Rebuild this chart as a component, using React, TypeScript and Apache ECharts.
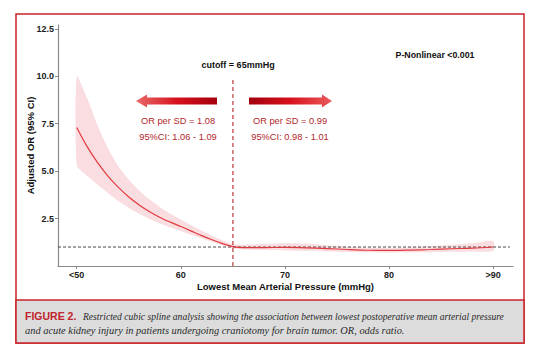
import React, { useEffect, useRef } from "react";
import * as echarts from "echarts";

const mapX = [50, 51, 52, 53, 54, 55, 56, 57, 58, 59, 60, 61, 62, 63, 64, 65, 66, 68, 70, 72, 74, 76, 78, 80, 82, 84, 86, 88, 90];
const orEst = [7.3, 6.29, 5.45, 4.74, 4.14, 3.64, 3.22, 2.86, 2.56, 2.31, 2.08, 1.84, 1.6, 1.38, 1.18, 1.02, 0.97, 0.97, 0.98, 0.96, 0.92, 0.87, 0.83, 0.82, 0.84, 0.87, 0.91, 0.94, 1.0];
const ciUpper = [10.0, 8.85, 7.4, 6.2, 5.25, 4.55, 3.98, 3.5, 3.1, 2.75, 2.45, 2.15, 1.86, 1.6, 1.36, 1.14, 1.12, 1.17, 1.2, 1.18, 1.1, 1.02, 0.96, 0.94, 0.98, 1.04, 1.12, 1.2, 1.32];
const ciLower = [5.3, 4.75, 4.28, 3.85, 3.42, 3.05, 2.75, 2.48, 2.24, 2.03, 1.84, 1.64, 1.45, 1.27, 1.1, 0.94, 0.87, 0.84, 0.82, 0.8, 0.77, 0.74, 0.72, 0.71, 0.72, 0.73, 0.75, 0.77, 0.79];
const xTicks = [50, 60, 70, 80, 90];
const yTicks = [2.5, 5.0, 7.5, 10.0, 12.5];
const cutoff = 65;
const refOR = 1;

const captionLine1 = "Restricted cubic spline analysis showing the association between lowest postoperative mean arterial pressure";
const captionLine2 = "and acute kidney injury in patients undergoing craniotomy for brain tumor. OR, odds ratio.";

export default function App() {
  const ref = useRef<HTMLDivElement>(null);
  useEffect(() => {
    if (!ref.current) return;
    const chart = echarts.init(ref.current, undefined, { renderer: "svg" });
    const axisGray = "#8a8a8a";
    const darkRed = "#b3262c";
    const bandData = mapX.map((x, i) => [x, ciLower[i], ciUpper[i]]);
    const option: any = {
      animation: false,
      backgroundColor: "#ffffff",
      grid: { left: 58, right: 22, top: 25, bottom: 88 },
      xAxis: {
        type: "value",
        min: 48.2,
        max: 91.9,
        splitLine: { show: false },
        axisLine: { show: true, lineStyle: { color: axisGray, width: 1.2 } },
        axisTick: { show: true, length: 3, customValues: xTicks, lineStyle: { color: axisGray } },
        axisLabel: {
          customValues: xTicks,
          margin: 4,
          color: "#222",
          fontWeight: "bold",
          fontSize: 9,
          fontFamily: "Liberation Sans",
          formatter: (v: number) => (v === 50 ? "<50" : v === 90 ? ">90" : String(v)),
        },
        name: "Lowest Mean Arterial Pressure (mmHg)",
        nameLocation: "middle",
        nameGap: 15,
        nameMoveOverlap: false,
        nameTextStyle: { color: "#111", fontWeight: "bold", fontSize: 9.5, fontFamily: "Liberation Sans" },
      },
      yAxis: {
        type: "value",
        min: 0,
        max: 12.7,
        splitLine: { show: false },
        axisLine: { show: true, lineStyle: { color: axisGray, width: 1.2 } },
        axisTick: { show: true, length: 3, customValues: yTicks, lineStyle: { color: axisGray } },
        axisLabel: {
          customValues: yTicks,
          margin: 4,
          color: "#222",
          fontWeight: "bold",
          fontSize: 9,
          fontFamily: "Liberation Sans",
          formatter: (v: number) => v.toFixed(1),
        },
        name: "Adjusted OR (95% CI)",
        nameLocation: "middle",
        nameGap: 23,
        nameMoveOverlap: false,
        nameTextStyle: { color: "#111", fontWeight: "bold", fontSize: 9.5, fontFamily: "Liberation Sans" },
      },
      series: [
        {
          type: "custom",
          data: bandData,
          encode: { x: 0, y: [1, 2] },
          z: 1,
          renderItem: (params: any, api: any) => {
            if (params.dataIndex !== 0) return null;
            const top = bandData.map((d) => api.coord([d[0], d[2]]));
            const bot = bandData.map((d) => api.coord([d[0], d[1]])).reverse();
            return {
              type: "polygon",
              shape: { points: top.concat(bot), smooth: 0.2 },
              style: { fill: "rgba(232,120,130,0.25)", stroke: "none" },
            };
          },
        },
        {
          type: "line",
          data: [[48.2, refOR], [91.6, refOR]],
          symbol: "none",
          lineStyle: { color: "#333", width: 0.9, type: [3, 2] },
          z: 2,
        },
        {
          type: "line",
          data: mapX.map((x, i) => [x, orEst[i]]),
          symbol: "none",
          smooth: 0.3,
          lineStyle: { color: "#e0393e", width: 1.2 },
          z: 3,
        },
        {
          type: "line",
          data: [[cutoff, 0], [cutoff, 9.9]],
          symbol: "none",
          lineStyle: { color: darkRed, width: 1.1, type: [4, 3] },
          z: 4,
        },
      ],
      graphic: [
        {
          type: "rect",
          shape: { x: 16, y: 14, width: 508, height: 329 },
          style: { fill: "none", stroke: "#c8232b", lineWidth: 1.5 },
          z: -1,
        },
        {
          type: "rect",
          shape: { x: 16, y: 300, width: 508, height: 43 },
          style: { fill: "#dcdcdc", stroke: "#c8232b", lineWidth: 1.5 },
        },
        {
          type: "text",
          x: 25,
          y: 316,
          style: {
            text: "{a|FIGURE 2.}  {b|" + captionLine1 + "}",
            verticalAlign: "middle",
            rich: {
              a: { fontFamily: "Liberation Sans", fontWeight: "bold", fontSize: 10.5, fill: "#c0242c" },
              b: { fontFamily: "Liberation Serif", fontStyle: "italic", fontSize: 9.6, fill: "#2a2a2a" },
            },
          },
        },
        {
          type: "text",
          x: 25,
          y: 330,
          style: {
            text: captionLine2,
            verticalAlign: "middle",
            fontFamily: "Liberation Serif",
            fontStyle: "italic",
            fontSize: 10.4,
            fill: "#2a2a2a",
          },
        },
        {
          type: "text",
          x: 238,
          y: 65,
          style: { text: "cutoff = 65mmHg", align: "center", verticalAlign: "middle", fontFamily: "Liberation Sans", fontWeight: "bold", fontSize: 9, fill: "#111" },
        },
        {
          type: "text",
          x: 435,
          y: 55,
          style: { text: "P-Nonlinear <0.001", align: "center", verticalAlign: "middle", fontFamily: "Liberation Sans", fontWeight: "bold", fontSize: 8.8, fill: "#111" },
        },
        {
          type: "polygon",
          shape: { points: [[136, 101], [147, 94.5], [147, 97.5], [217, 97.5], [217, 104.5], [147, 104.5], [147, 107.5]] },
          style: {
            fill: new echarts.graphic.LinearGradient(0, 0, 1, 0, [
              { offset: 0, color: "#ea6a6c" },
              { offset: 0.5, color: "#d6121c" },
              { offset: 1, color: "#a3000e" },
            ]),
          },
        },
        {
          type: "polygon",
          shape: { points: [[249, 97.5], [322, 97.5], [322, 94.5], [332, 101], [322, 107.5], [322, 104.5], [249, 104.5]] },
          style: {
            fill: new echarts.graphic.LinearGradient(0, 0, 1, 0, [
              { offset: 0, color: "#a3000e" },
              { offset: 0.5, color: "#d6121c" },
              { offset: 1, color: "#ea5a5c" },
            ]),
          },
        },
        {
          type: "text",
          x: 178,
          y: 121,
          style: { text: "OR per SD = 1.08", align: "center", verticalAlign: "middle", fontFamily: "Liberation Sans", fontSize: 9.3, fill: darkRed },
        },
        {
          type: "text",
          x: 178,
          y: 137,
          style: { text: "95%CI: 1.06 - 1.09", align: "center", verticalAlign: "middle", fontFamily: "Liberation Sans", fontSize: 9.3, fill: darkRed },
        },
        {
          type: "text",
          x: 290,
          y: 121,
          style: { text: "OR per SD = 0.99", align: "center", verticalAlign: "middle", fontFamily: "Liberation Sans", fontSize: 9.3, fill: darkRed },
        },
        {
          type: "text",
          x: 290,
          y: 137,
          style: { text: "95%CI: 0.98 - 1.01", align: "center", verticalAlign: "middle", fontFamily: "Liberation Sans", fontSize: 9.3, fill: darkRed },
        },
      ],
    };
    chart.setOption(option);
    return () => chart.dispose();
  }, []);
  return (
    <div
      ref={ref}
      style={{ position: "fixed", left: 0, top: 0, width: 535, height: 354, background: "#fff" }}
    />
  );
}
